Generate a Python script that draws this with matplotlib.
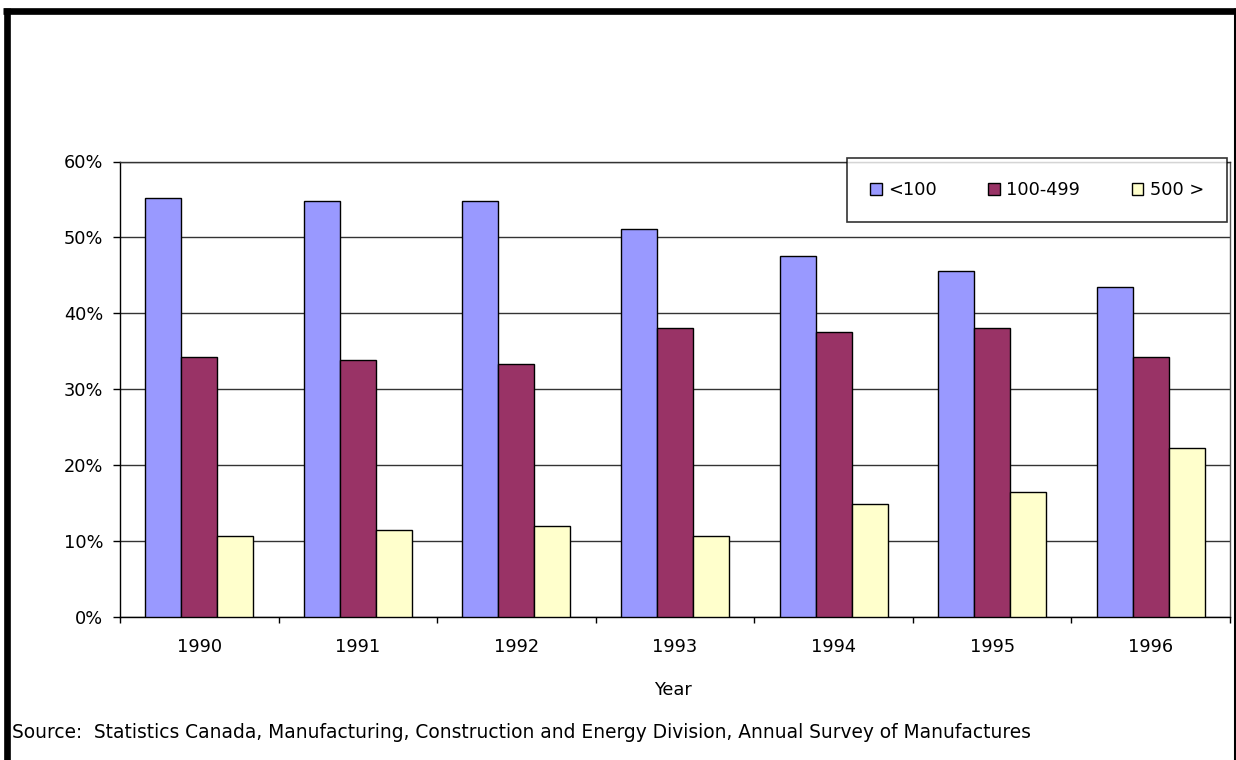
import matplotlib
matplotlib.use("Agg")
import matplotlib.pyplot as plt
import numpy as np
from matplotlib.ticker import PercentFormatter, FixedLocator
from matplotlib.lines import Line2D

years = ["1990", "1991", "1992", "1993", "1994", "1995", "1996"]
series_names = ["<100", "100-499", "500 >"]
small = [55.2, 54.8, 54.8, 51.1, 47.6, 45.6, 43.5]
medium = [34.3, 33.8, 33.3, 38.1, 37.6, 38.1, 34.3]
large = [10.7, 11.5, 12.0, 10.7, 14.9, 16.4, 22.2]
colors = ["#9999FF", "#993366", "#FFFFCC"]
source_text = "Source:  Statistics Canada, Manufacturing, Construction and Energy Division, Annual Survey of Manufactures"

plt.rcParams['font.family'] = ['DejaVu Sans']
FS = 12.8
W, H = 1236, 760
fig = plt.figure(figsize=(W / 100, H / 100), dpi=100)
ax = fig.add_axes([120 / W, 1 - 617 / H, (1230 - 120) / W, (617 - 161.5) / H])

x = np.arange(len(years))
bw = 0.227
for i, (vals, name, c) in enumerate(zip([small, medium, large], series_names, colors)):
    ax.bar(x + (i - 1) * bw, vals, width=bw, color=c, edgecolor="black",
           linewidth=1.0, label=name, zorder=3)

ax.set_xlim(-0.5, len(years) - 0.5)
ax.set_ylim(0, 60)
ax.yaxis.set_major_locator(FixedLocator(np.arange(0, 61, 10)))
ax.yaxis.set_major_formatter(PercentFormatter(100, decimals=0))
ax.set_xticks(x)
ax.set_xticklabels(years)
ax.xaxis.set_minor_locator(FixedLocator(np.arange(-0.5, len(years), 1.0)))
ax.tick_params(axis="x", which="major", length=0, pad=15, labelsize=FS)
ax.tick_params(axis="x", which="minor", length=4.5, width=1.0, color="black")
ax.tick_params(axis="y", which="major", length=5, width=1.0, pad=7, labelsize=FS, color="black")

ax.yaxis.grid(True, color="#333333", linewidth=1.0)
ax.set_axisbelow(True)
for s in ["left", "bottom"]:
    ax.spines[s].set_color("black")
    ax.spines[s].set_linewidth(1.0)
ax.spines["top"].set_color("#333333")
ax.spines["top"].set_linewidth(1.0)
ax.spines["right"].set_color("#555555")
ax.spines["right"].set_linewidth(1.0)

ax.set_xlabel("Year", fontsize=FS)
ax.xaxis.set_label_coords(0.498, -0.14)

leg = fig.legend(loc="center", ncol=3, mode="expand",
                 bbox_to_anchor=(847 / W, 1 - 222 / H, 380 / W, 64 / H),
                 frameon=True, fancybox=False, fontsize=FS,
                 handlelength=0.65, handleheight=0.65, handletextpad=0.35,
                 borderpad=1.3, borderaxespad=0)
leg.get_frame().set_edgecolor("black")
leg.get_frame().set_linewidth(1.2)
for h in leg.legend_handles:
    h.set_linewidth(1.0)

fig.text(12 / W, 1 - 732 / H, source_text, fontsize=13.4, ha="left", va="center")

# outer frame (left, top, right edges)
lw_pt = 4.8
fig.add_artist(Line2D([6.5 / W, 6.5 / W], [0, 1 - 7.5 / H], transform=fig.transFigure,
                      color="black", linewidth=lw_pt, solid_capstyle="butt"))
fig.add_artist(Line2D([3 / W, 1], [1 - 10.5 / H, 1 - 10.5 / H], transform=fig.transFigure,
                      color="black", linewidth=lw_pt, solid_capstyle="butt"))
fig.add_artist(Line2D([1 - 1.5 / W, 1 - 1.5 / W], [0, 1 - 7.5 / H], transform=fig.transFigure,
                      color="black", linewidth=2.2, solid_capstyle="butt"))

fig.savefig("out.png", dpi=100)
